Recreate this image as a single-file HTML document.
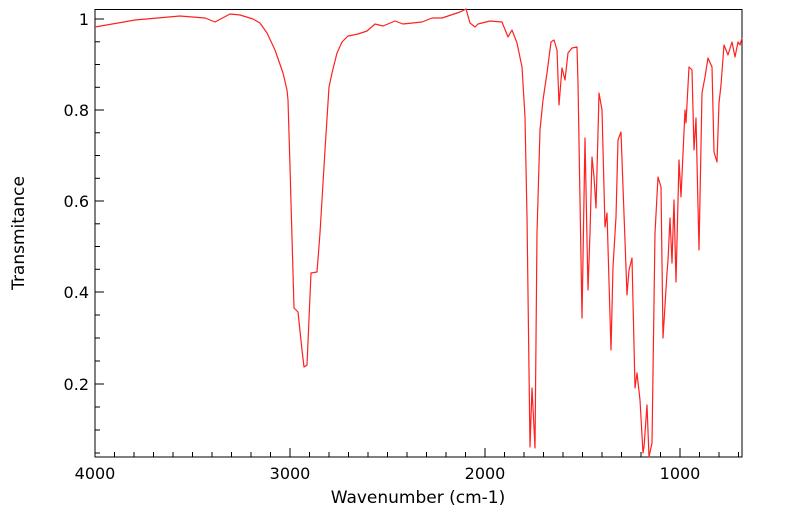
<!DOCTYPE html>
<html><head><meta charset="utf-8"><style>
html,body{margin:0;padding:0;background:#fff;}
svg{display:block;font-family:"DejaVu Sans","Liberation Sans",sans-serif;}
</style></head><body>
<svg width="799" height="516" viewBox="0 0 799 516" xmlns="http://www.w3.org/2000/svg">
<rect x="95" y="9.5" width="647" height="447.5" fill="none" stroke="#000" stroke-width="1"/>
<g stroke="#000" stroke-width="1">
<!-- y major ticks -->
<line x1="95" y1="19" x2="104" y2="19"/><line x1="95" y1="110" x2="104" y2="110"/><line x1="95" y1="201" x2="104" y2="201"/><line x1="95" y1="292" x2="104" y2="292"/><line x1="95" y1="384" x2="104" y2="384"/>
<!-- y minor -->
<line x1="95" y1="41.8" x2="100" y2="41.8"/><line x1="95" y1="64.5" x2="100" y2="64.5"/><line x1="95" y1="87.3" x2="100" y2="87.3"/>
<line x1="95" y1="132.8" x2="100" y2="132.8"/><line x1="95" y1="155.5" x2="100" y2="155.5"/><line x1="95" y1="178.3" x2="100" y2="178.3"/>
<line x1="95" y1="223.8" x2="100" y2="223.8"/><line x1="95" y1="246.5" x2="100" y2="246.5"/><line x1="95" y1="269.3" x2="100" y2="269.3"/>
<line x1="95" y1="315" x2="100" y2="315"/><line x1="95" y1="338" x2="100" y2="338"/><line x1="95" y1="361" x2="100" y2="361"/>
<line x1="95" y1="407" x2="100" y2="407"/><line x1="95" y1="430" x2="100" y2="430"/><line x1="95" y1="453" x2="100" y2="453"/>
<!-- x major -->
<line x1="290" y1="457" x2="290" y2="448"/><line x1="485" y1="457" x2="485" y2="448"/><line x1="680" y1="457" x2="680" y2="448"/>
<!-- x minor every 100 -->
<line x1="114.5" y1="457" x2="114.5" y2="452"/><line x1="134" y1="457" x2="134" y2="452"/><line x1="153.5" y1="457" x2="153.5" y2="452"/><line x1="173" y1="457" x2="173" y2="452"/><line x1="192.5" y1="457" x2="192.5" y2="452"/><line x1="212" y1="457" x2="212" y2="452"/><line x1="231.5" y1="457" x2="231.5" y2="452"/><line x1="251" y1="457" x2="251" y2="452"/><line x1="270.5" y1="457" x2="270.5" y2="452"/>
<line x1="309.5" y1="457" x2="309.5" y2="452"/><line x1="329" y1="457" x2="329" y2="452"/><line x1="348.5" y1="457" x2="348.5" y2="452"/><line x1="368" y1="457" x2="368" y2="452"/><line x1="387.5" y1="457" x2="387.5" y2="452"/><line x1="407" y1="457" x2="407" y2="452"/><line x1="426.5" y1="457" x2="426.5" y2="452"/><line x1="446" y1="457" x2="446" y2="452"/><line x1="465.5" y1="457" x2="465.5" y2="452"/>
<line x1="504.5" y1="457" x2="504.5" y2="452"/><line x1="524" y1="457" x2="524" y2="452"/><line x1="543.5" y1="457" x2="543.5" y2="452"/><line x1="563" y1="457" x2="563" y2="452"/><line x1="582.5" y1="457" x2="582.5" y2="452"/><line x1="602" y1="457" x2="602" y2="452"/><line x1="621.5" y1="457" x2="621.5" y2="452"/><line x1="641" y1="457" x2="641" y2="452"/><line x1="660.5" y1="457" x2="660.5" y2="452"/>
<line x1="699.5" y1="457" x2="699.5" y2="452"/><line x1="719" y1="457" x2="719" y2="452"/><line x1="738.5" y1="457" x2="738.5" y2="452"/>
</g>
<g font-size="16" fill="#000">
<text x="89" y="25" text-anchor="end">1</text>
<text x="89" y="116" text-anchor="end">0.8</text>
<text x="89" y="207" text-anchor="end">0.6</text>
<text x="89" y="298" text-anchor="end">0.4</text>
<text x="89" y="390" text-anchor="end">0.2</text>
<text x="95" y="479" text-anchor="middle">4000</text>
<text x="290" y="479" text-anchor="middle">3000</text>
<text x="485" y="479" text-anchor="middle">2000</text>
<text x="680" y="479" text-anchor="middle">1000</text>
<text x="418" y="503" text-anchor="middle" font-size="17">Wavenumber (cm-1)</text>
<text transform="translate(24,233) rotate(-90)" text-anchor="middle" font-size="17">Transmitance</text>
</g>
<polyline fill="none" stroke="#ff2020" stroke-width="1.2" stroke-linejoin="round" points="
95,27 135,20 180,16 205,18 215,22 230,14 240,15 253,19 260,23 267,33 275,50 283,73 287,90 288,100 290,167 294,308 298,312 302,350 304,367 307,365 311,273 317,272 320,233 325,150 329,87 332,73 337,53 342,42 348,36 358,34 367,31 375,24 383,26 395,21 403,24 422,22 432,18 442,18 448,16 460,12 466,9 470,23 475,27 478,24 490,21 502,22 508,37 512,30 517,43 522,67 525,117 527,217 530,447 532,388 535,448 537,233 540,130 543,100 547,73 551,42 554,40 557,50 559,105 562,68 565,80 568,53 572,48 577,47 578,83 580,200 582,318 585,138 588,290 590,233 592,157 594,177 596,208 598,133 599,93 602,110 605,227 607,213 611,350 613,267 616,217 618,140 621,132 623,187 627,295 629,270 632,258 635,388 637,373 640,400 643,453 644,447 647,405 649,457 652,443 655,233 658,177 661,187 663,338 667,273 668,260 670,218 672,263 674,200 676,282 679,160 681,197 685,110 686,123 689,67 692,70 694,150 696,118 699,250 702,93 705,77 708,58 712,67 714,152 717,162 719,103 721,85 724,45 728,55 732,42 735,57 738,42 740,45 742,38"/>
</svg>
</body></html>
